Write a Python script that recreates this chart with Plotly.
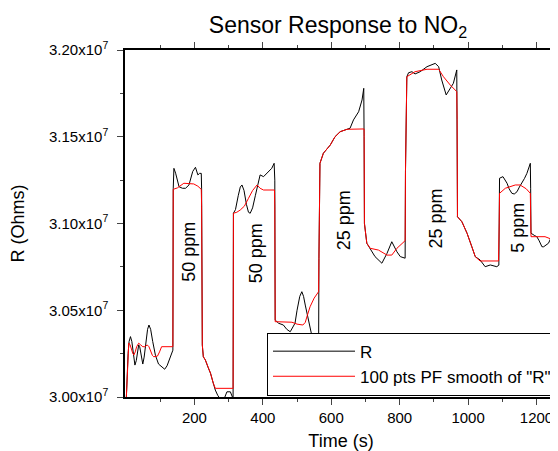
import numpy as np
import plotly.graph_objects as go

# raw sensor trace, time in s and resistance in units of 1e7 Ohms
time_r = [1, 3, 6, 9, 13, 17, 21, 26, 30, 34, 37, 40, 44, 49, 53, 58, 63, 67, 72, 78, 86, 95, 105,
          113, 120, 126, 130, 134, 137, 138,
          140, 145, 150, 155, 165, 174, 184, 195, 203, 210, 215, 220, 221, 223, 226, 232, 240, 247,
          255, 261, 268, 275, 285, 295, 305, 312, 313,
          314, 320, 328, 334, 339, 345, 352, 358, 363, 370, 378, 385, 392, 402, 416, 426, 433, 435,
          436, 446, 460, 470, 480, 488, 494, 500, 508, 514, 519, 524, 529, 535, 540, 548, 558, 563, 564,
          567, 577, 597, 611, 626, 646, 655, 665, 680, 690, 695, 696, 697, 704, 714, 728, 748, 763,
          777, 792, 802, 816, 817,
          821, 826, 836, 845, 860, 880, 904, 914, 923, 936, 948, 957, 967, 968, 969, 982, 997, 1011,
          1021, 1035, 1050, 1065, 1084, 1090, 1091,
          1092, 1102, 1108, 1114, 1120, 1128, 1135, 1143, 1150, 1157, 1165, 1172, 1178, 1182, 1183,
          1184, 1195, 1201, 1208, 1216, 1221, 1228, 1235, 1243, 1250, 1261]
r_values = [3.000, 3.012, 3.025, 3.032, 3.0348, 3.032, 3.024, 3.0184, 3.021, 3.027, 3.030, 3.029,
            3.024, 3.019, 3.023, 3.032, 3.039, 3.0415, 3.039, 3.032, 3.024, 3.019, 3.017,
            3.016, 3.018, 3.021, 3.0232, 3.025, 3.027, 3.120,
            3.1318, 3.129, 3.124, 3.1212, 3.1203, 3.1203, 3.1222, 3.130, 3.1324, 3.128, 3.1289, 3.1289,
            3.120, 3.030, 3.0232, 3.0213, 3.017, 3.0137, 3.008, 3.004, 3.001, 2.999, 2.998, 3.003,
            3.003, 3.000, 2.999,
            3.1059, 3.108, 3.116, 3.121, 3.1222, 3.119, 3.111, 3.1065, 3.1059, 3.109, 3.116, 3.123,
            3.128, 3.1270, 3.1299, 3.1318, 3.1347, 3.125,
            3.0444, 3.0425, 3.0415, 3.039, 3.0376, 3.040, 3.0425, 3.050, 3.058, 3.0607, 3.058, 3.053,
            3.0482, 3.042, 3.038, 3.0310, 3.029, 3.027, 3.080,
            3.1347, 3.1405, 3.1452, 3.1500, 3.1529, 3.1543, 3.1549, 3.1597, 3.1644, 3.1712, 3.1779,
            3.150, 3.1001, 3.0886, 3.0857, 3.0809, 3.0771, 3.0828, 3.0895, 3.0837, 3.0809, 3.0800, 3.130,
            3.1846, 3.1869, 3.1875, 3.1862, 3.1875, 3.1904, 3.1923, 3.1904, 3.1827, 3.1741, 3.1779,
            3.1808, 3.1885, 3.160, 3.1039, 3.1010, 3.0944, 3.0866, 3.0809, 3.0790, 3.0751, 3.0761,
            3.0751, 3.076, 3.100,
            3.1261, 3.1270, 3.125, 3.1232, 3.120, 3.1174, 3.117, 3.1183, 3.121, 3.1232, 3.126, 3.1289,
            3.132, 3.1347, 3.120,
            3.0944, 3.0930, 3.0924, 3.090, 3.0866, 3.0866, 3.0875, 3.0886, 3.092, 3.0963, 3.1020]

# smoothed trace
time_s = [1, 4, 8, 12, 16, 20, 23, 27, 31, 37, 43, 49, 55, 62, 67, 72, 77, 81, 86, 92, 98, 104, 137,
          138, 150, 159, 169, 198, 210, 220,
          221, 223, 226, 232, 240, 247, 255, 261, 310, 313,
          314, 324, 334, 346, 358, 370, 383, 392, 402, 434, 435, 436, 485, 500, 517, 524, 530, 538,
          550, 563, 564,
          567, 577, 597, 611, 626, 646, 696, 697, 704, 714, 738, 763, 777, 792, 816, 817,
          821, 845, 880, 914, 928, 948, 967, 968, 969, 982, 997, 1011, 1021, 1035, 1089, 1091,
          1092, 1109, 1125, 1138, 1152, 1170, 1182, 1183, 1184, 1201, 1225, 1250, 1261]
s_values = [3.000, 3.018, 3.0311, 3.030, 3.027, 3.025, 3.0242, 3.026, 3.029, 3.0310, 3.030, 3.0290,
            3.029, 3.0300, 3.029, 3.026, 3.024, 3.0232, 3.0232, 3.0236, 3.026, 3.0290, 3.0290,
            3.1197, 3.1205, 3.1216, 3.1232, 3.1228, 3.1215, 3.1197,
            3.110, 3.030, 3.0232, 3.0213, 3.017, 3.0137, 3.008, 3.005, 3.005, 3.005,
            3.1059, 3.1065, 3.1078, 3.110, 3.1145, 3.119, 3.1222, 3.1203, 3.1193, 3.1193, 3.110, 3.0434,
            3.0431, 3.042, 3.0415, 3.043, 3.047, 3.0520, 3.057, 3.0607, 3.080,
            3.1347, 3.1405, 3.1452, 3.1500, 3.1529, 3.1543, 3.1545, 3.1001, 3.0886, 3.0857, 3.0847,
            3.0818, 3.0818, 3.0857, 3.0901, 3.130,
            3.1846, 3.1875, 3.1889, 3.1889, 3.1846, 3.1798, 3.1760, 3.160, 3.1039, 3.1010, 3.0944,
            3.0866, 3.0809, 3.0784, 3.0784, 3.100,
            3.1174, 3.1203, 3.1215, 3.1222, 3.1222, 3.120, 3.1174, 3.110, 3.0924, 3.0924, 3.0924, 3.0905,
            3.0915]

y_ticks = [3.00, 3.05, 3.10, 3.15, 3.20]
x_ticks = [200, 400, 600, 800, 1000, 1200]
labels = ["50 ppm", "50 ppm", "25 ppm", "25 ppm", "5 ppm"]

scale = 1e7
font = "Liberation Sans, Arial, sans-serif"

fig = go.Figure()
fig.add_trace(go.Scatter(x=time_r, y=np.array(r_values) * scale, mode="lines", name="R",
                         line=dict(color="black", width=1)))
fig.add_trace(go.Scatter(x=time_s, y=np.array(s_values) * scale, mode="lines",
                         name='100 pts PF smooth of "R"', line=dict(color="red", width=1)))

# label positions (time, R/1e7)
label_pos = [(184, 3.0837), (380, 3.0828), (638, 3.1020), (907, 3.1030), (1147, 3.0977)]
for text, (lx, ly) in zip(labels, label_pos):
    fig.add_annotation(x=lx, y=ly * scale, text=text, showarrow=False, textangle=-90,
                       font=dict(size=18, color="black", family=font))

fig.update_xaxes(
    range=[-3, 1260], tickvals=x_ticks, ticks="outside", ticklen=6, tickwidth=1.2,
    minor=dict(tickvals=[100, 300, 500, 700, 900, 1100], ticklen=3, ticks="outside", tickwidth=1.2),
    showline=True, linecolor="black", linewidth=1.5, mirror="ticks", showgrid=False, zeroline=False,
    automargin=False,
    tickfont=dict(size=15), title=dict(text="Time (s)", font=dict(size=18), standoff=10),
)
fig.update_yaxes(
    range=[3.0 * scale, 3.2 * scale], tickvals=[v * scale for v in y_ticks],
    ticktext=[f"{v:.2f}x10<sup>7</sup>" for v in y_ticks],
    ticks="outside", ticklen=6, tickwidth=1.2, ticklabelstandoff=6,
    minor=dict(tickvals=[v * scale for v in [3.025, 3.075, 3.125, 3.175]], ticklen=3,
               ticks="outside", tickwidth=1.2),
    showline=True, linecolor="black", linewidth=1.5, mirror="ticks", showgrid=False, zeroline=False,
    automargin=False,
    tickfont=dict(size=15), title=dict(text="R (Ohms)", font=dict(size=18), standoff=20),
)
# page body has an 8px margin, so the figure is drawn 8px smaller
fig.update_layout(
    width=550, height=443,
    margin=dict(l=117, r=1, t=42, b=54),
    font=dict(family=font, color="black"),
    plot_bgcolor="white", paper_bgcolor="white",
    title=dict(text="Sensor Response to NO<sub>2</sub>", font=dict(size=23), xref="paper", x=0.493,
               xanchor="center", y=0.962, yanchor="middle"),
    legend=dict(x=1, xanchor="right", y=0.004, yanchor="bottom", bgcolor="white",
                bordercolor="black", borderwidth=1, font=dict(size=17), tracegroupgap=0,
                itemwidth=82),
    showlegend=True,
)

fig.write_html("out.html")
